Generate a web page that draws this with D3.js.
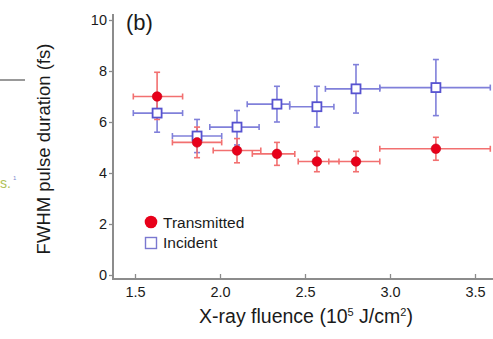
<!DOCTYPE html>
<html>
<head>
<meta charset="utf-8">
<script src="https://cdn.jsdelivr.net/npm/d3@7"></script>
<style>
  html, body { margin: 0; padding: 0; background: #fff; }
  svg { display: block; font-family: "Liberation Sans", Arial, Helvetica, sans-serif; }
</style>
</head>
<body>
<svg id="chart" width="493" height="339"></svg>
<script>
// X-ray fluence (10^5 J/cm^2) with horizontal error extents
const transFluence   = [1.63, 1.865, 2.10, 2.335, 2.57, 2.80, 3.27];
const transFluenceLo = [1.49, 1.72, 1.96, 2.19, 2.46, 2.64, 2.94];
const transFluenceHi = [1.78, 2.01, 2.24, 2.44, 2.70, 2.94, 3.59];
// Transmitted pulse duration (fs) with vertical error extents
const transDuration   = [7.0, 5.2, 4.88, 4.75, 4.45, 4.45, 4.95];
const transDurationLo = [6.1, 4.6, 4.4, 4.3, 4.05, 4.05, 4.5];
const transDurationHi = [7.95, 5.8, 5.35, 5.2, 4.85, 4.85, 5.4];

const incFluence   = [1.63, 1.865, 2.10, 2.335, 2.57, 2.80, 3.27];
const incFluenceLo = [1.49, 1.72, 1.94, 2.16, 2.41, 2.62, 2.94];
const incFluenceHi = [1.78, 2.01, 2.23, 2.41, 2.67, 2.94, 3.59];
// Incident pulse duration (fs) with vertical error extents
const incDuration   = [6.35, 5.45, 5.8, 6.7, 6.6, 7.3, 7.35];
const incDurationLo = [5.6, 4.8, 5.1, 6.0, 5.8, 6.35, 6.25];
const incDurationHi = [7.1, 6.1, 6.45, 7.4, 7.4, 8.25, 8.45];

const xTicks = [1.5, 2.0, 2.5, 3.0, 3.5];
const yTicks = [0, 2, 4, 6, 8, 10];
const legendLabels = ["Transmitted", "Incident"];

const svg = d3.select("#chart");

const x = d3.scaleLinear().domain([1.5, 3.5]).range([135, 475]);
const y = d3.scaleLinear().domain([0, 10]).range([275, 20]);

const axisColor = "#8c8c8c";
const textColor = "#1a1a1a";
const redMark = "#e8001a", redBar = "#f27070";
const blueMark = "#5753d0", blueBar = "#8080da";

// fragments of the neighbouring panel at the left edge
svg.append("line").attr("x1", 0).attr("x2", 25).attr("y1", 80).attr("y2", 80)
  .attr("stroke", "#777").attr("stroke-width", 1.5);
svg.append("text").attr("x", 0).attr("y", 188).attr("font-size", 14)
  .attr("fill", "#b0c258").text("s.");
svg.append("text").attr("x", 13).attr("y", 180).attr("font-size", 6)
  .attr("fill", "#7a8ad0").text("1");

// y axis (ticks outward)
const yAxis = svg.append("g").attr("transform", "translate(113,0)")
  .call(d3.axisLeft(y).tickValues(yTicks).tickFormat(d3.format("d")).tickSize(4).tickPadding(2));
yAxis.select(".domain").attr("d", `M0,${y(10) - 6}V279`).attr("stroke", axisColor).attr("stroke-width", 2);
yAxis.selectAll(".tick line").attr("stroke", axisColor).attr("stroke-width", 1.3);
yAxis.selectAll(".tick text").attr("font-size", 14.5).attr("fill", textColor)
  .attr("font-family", "'Liberation Sans', Arial, sans-serif");

// x axis (ticks inward)
const xAxis = svg.append("g").attr("transform", "translate(0,279)")
  .call(d3.axisBottom(x).tickValues(xTicks).tickFormat(d3.format(".1f")).tickSize(-5).tickPadding(8));
xAxis.select(".domain").attr("d", "M112,0H493").attr("stroke", axisColor).attr("stroke-width", 2);
xAxis.selectAll(".tick line").attr("stroke", axisColor).attr("stroke-width", 1.3);
xAxis.selectAll(".tick text").attr("font-size", 14.5).attr("fill", textColor)
  .attr("font-family", "'Liberation Sans', Arial, sans-serif");

// axis titles
svg.append("text")
  .attr("transform", `translate(50,149) rotate(-90)`)
  .attr("text-anchor", "middle").attr("font-size", 18.5).attr("fill", textColor)
  .text("FWHM pulse duration (fs)");

const xt = svg.append("text").attr("x", 306).attr("y", 323)
  .attr("text-anchor", "middle").attr("font-size", 19.5).attr("fill", textColor);
xt.append("tspan").text("X-ray fluence (10");
xt.append("tspan").attr("font-size", 11).attr("dy", -7).text("5");
xt.append("tspan").attr("dy", 7).text(" J/cm");
xt.append("tspan").attr("font-size", 11).attr("dy", -7).text("2");
xt.append("tspan").attr("dy", 7).text(")");

// panel label
svg.append("text").attr("x", 126).attr("y", 30).attr("font-size", 22).attr("fill", textColor).text("(b)");

// error bars with caps
function errorBars(cx, xlo, xhi, cy, ylo, yhi, color) {
  const g = svg.append("g").attr("stroke", color).attr("stroke-width", 1.6).attr("fill", "none");
  const cap = 3;
  cx.forEach((d, i) => {
    const px = x(d), py = y(cy[i]);
    g.append("line").attr("x1", x(xlo[i])).attr("x2", x(xhi[i])).attr("y1", py).attr("y2", py);
    g.append("line").attr("x1", x(xlo[i])).attr("x2", x(xlo[i])).attr("y1", py - cap).attr("y2", py + cap);
    g.append("line").attr("x1", x(xhi[i])).attr("x2", x(xhi[i])).attr("y1", py - cap).attr("y2", py + cap);
    g.append("line").attr("x1", px).attr("x2", px).attr("y1", y(ylo[i])).attr("y2", y(yhi[i]));
    g.append("line").attr("x1", px - cap).attr("x2", px + cap).attr("y1", y(ylo[i])).attr("y2", y(ylo[i]));
    g.append("line").attr("x1", px - cap).attr("x2", px + cap).attr("y1", y(yhi[i])).attr("y2", y(yhi[i]));
  });
}

errorBars(incFluence, incFluenceLo, incFluenceHi, incDuration, incDurationLo, incDurationHi, blueBar);
errorBars(transFluence, transFluenceLo, transFluenceHi, transDuration, transDurationLo, transDurationHi, redBar);

// incident: open squares
svg.append("g").selectAll("rect").data(incFluence).join("rect")
  .attr("x", (d) => x(d) - 4.5).attr("y", (d, i) => y(incDuration[i]) - 4.5)
  .attr("width", 9).attr("height", 9)
  .attr("fill", "#fff").attr("stroke", blueMark).attr("stroke-width", 1.8);

// transmitted: filled circles
svg.append("g").selectAll("circle").data(transFluence).join("circle")
  .attr("cx", (d) => x(d)).attr("cy", (d, i) => y(transDuration[i]))
  .attr("r", 4.8).attr("fill", redMark).attr("stroke", "#c80018").attr("stroke-width", 0.6);

// legend
const lg = svg.append("g");
lg.append("circle").attr("cx", 151).attr("cy", 222).attr("r", 6.3).attr("fill", redMark);
lg.append("rect").attr("x", 145.5).attr("y", 237.5).attr("width", 11).attr("height", 11)
  .attr("fill", "#fff").attr("stroke", "#7a78d0").attr("stroke-width", 1.4);
lg.selectAll("text").data(legendLabels).join("text")
  .attr("x", 163).attr("y", (d, i) => 227.5 + i * 20)
  .attr("font-size", 15.5).attr("fill", textColor).text((d) => d);
</script>
</body>
</html>
